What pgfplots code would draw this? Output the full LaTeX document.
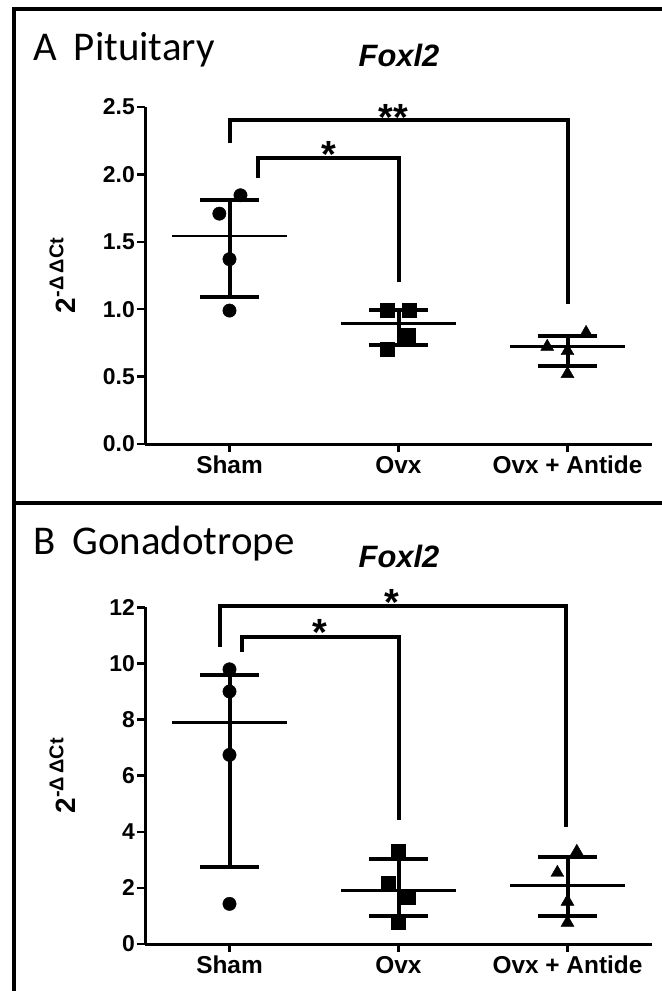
\documentclass[border=0pt]{standalone}
\usepackage{fontspec}
\setmainfont{Liberation Sans}
\newfontfamily\calibri{Carlito}
\usepackage{pgfplots}
\pgfplotsset{compat=1.18}

\newcommand{\yticksfont}{\fontsize{23}{23}\selectfont\bfseries}
\newcommand{\xticksfont}{\fontsize{24.5}{24.5}\selectfont\bfseries}
\newcommand{\ylab}{{\fontsize{28}{28}\selectfont\bfseries 2\raisebox{0.42em}{\fontsize{20}{20}\selectfont -Δ\,ΔCt}}}
\newcommand{\starfont}{\fontsize{38}{38}\selectfont\bfseries}
\newcommand{\yt}[1]{{\yticksfont #1}}

\pgfplotsset{
  panel/.style={
    scale only axis, width=507bp,
    xmin=-0.5, xmax=2.5, ymin=0,
    axis lines*=left,
    axis line style={line width=3bp, black},
    tick style={line width=2.5bp, black},
    tick align=outside,
    major tick length=8bp,
    xtick={0,1,2}, xticklabels={Sham,Ovx,Ovx + Antide},
    xticklabel style={font=\xticksfont, inner sep=4bp},
    yticklabel style={font=\yticksfont, inner sep=2bp},
    clip=false,
    every axis y label/.style={at={(axis description cs:-0.163,0.5)}, rotate=90, anchor=center},
    ylabel={\ylab},
  },
  meanline/.style={line width=2.6bp, black, forget plot},
  sdline/.style={line width=4bp, black, forget plot},
  bracket/.style={line width=4bp, black, forget plot, line join=miter},
  pts/.style={only marks, black, forget plot},
}

\begin{document}
\begin{tikzpicture}
\fill[white] (0,0) rectangle (662bp,-991bp);
\useasboundingbox (0,0) rectangle (662bp,-991bp);

% panel borders
\draw[line width=4bp] (662bp,-9bp) -- (14bp,-9bp) -- (14bp,-991bp);
\draw[line width=4bp] (14bp,-503bp) -- (662bp,-503bp);

% titles
\node[anchor=base west, font=\calibri\fontsize{41}{41}\selectfont, inner sep=0] at (33bp,-60bp) {A\hspace{0.42em}Pituitary};
\node[anchor=base, font=\fontsize{31}{31}\selectfont\bfseries\itshape, inner sep=0] at (399bp,-66bp) {Foxl2};
\node[anchor=base west, font=\calibri\fontsize{41}{41}\selectfont, inner sep=0] at (33bp,-554bp) {B\hspace{0.42em}Gonadotrope};
\node[anchor=base, font=\fontsize{31}{31}\selectfont\bfseries\itshape, inner sep=0] at (399bp,-567bp) {Foxl2};

% ---------------- Panel A ----------------
\begin{axis}[panel, at={(145bp,-444bp)}, anchor=south west,
  height=337bp, ymax=2.5, ytick={0,0.5,1,1.5,2,2.5},
  yticklabels={\yt{0.0},\yt{0.5},\yt{1.0},\yt{1.5},\yt{2.0},\yt{2.5}}]
  % points
  \addplot[pts, mark=*, mark size=6.7bp] coordinates {(0.065,1.845) (-0.06,1.709) (0,1.371) (0,0.99)};
  \addplot[pts, mark=square*, mark size=7bp] coordinates {(0.935,0.995) (1.065,0.995) (1.06,0.81) (0.935,0.705)};
  \addplot[pts, mark=triangle*, mark size=7.5bp] coordinates {(2.11,0.825) (1.88,0.722) (2,0.69) (2,0.52)};
  % median lines
  \addplot[meanline, unbounded coords=jump] coordinates {(-0.338,1.542) (0.338,1.542) (nan,nan) (0.662,0.895) (1.338,0.895) (nan,nan) (1.662,0.722) (2.338,0.722)};
  % ranges
  \addplot[sdline, unbounded coords=jump] coordinates {
    (0,1.089) (0,1.808) (nan,nan) (-0.175,1.808) (0.175,1.808) (nan,nan) (-0.175,1.089) (0.175,1.089) (nan,nan)
    (1,0.737) (1,0.995) (nan,nan) (0.825,0.995) (1.175,0.995) (nan,nan) (0.825,0.737) (1.175,0.737) (nan,nan)
    (2,0.575) (2,0.804) (nan,nan) (1.825,0.804) (2.175,0.804) (nan,nan) (1.825,0.575) (2.175,0.575)};
  % brackets
  \addplot[bracket] coordinates {(0,2.23) (0,2.40) (2,2.40) (2,1.04)};
  \addplot[bracket] coordinates {(0.17,1.97) (0.17,2.12) (1,2.12) (1,1.20)};
  \node[font=\starfont, anchor=base, inner sep=0, yshift=-21bp] at (axis cs:0.97,2.48) {**};
  \node[font=\starfont, anchor=base, inner sep=0, yshift=-21bp] at (axis cs:0.59,2.205) {*};
\end{axis}

% ---------------- Panel B ----------------
\begin{axis}[panel, at={(145bp,-944bp)}, anchor=south west,
  height=336.7bp, ymax=12, ytick={0,2,4,6,8,10,12},
  yticklabels={\yt{0},\yt{2},\yt{4},\yt{6},\yt{8},\yt{10},\yt{12}}]
  \addplot[pts, mark=*, mark size=6.7bp] coordinates {(0,9.79) (0,9.0) (0,6.74) (0,1.43)};
  \addplot[pts, mark=square*, mark size=7bp] coordinates {(1,3.3) (0.94,2.16) (1.06,1.66) (1,0.78)};
  \addplot[pts, mark=triangle*, mark size=7.5bp] coordinates {(2.055,3.29) (1.94,2.54) (2,1.51) (2,0.76)};
  \addplot[meanline, unbounded coords=jump] coordinates {(-0.338,7.89) (0.338,7.89) (nan,nan) (0.662,1.90) (1.338,1.90) (nan,nan) (1.662,2.09) (2.338,2.09)};
  \addplot[sdline, unbounded coords=jump] coordinates {
    (0,2.75) (0,9.58) (nan,nan) (-0.175,9.58) (0.175,9.58) (nan,nan) (-0.175,2.75) (0.175,2.75) (nan,nan)
    (1,1.01) (1,3.03) (nan,nan) (0.825,3.03) (1.175,3.03) (nan,nan) (0.825,1.01) (1.175,1.01) (nan,nan)
    (2,1.01) (2,3.11) (nan,nan) (1.825,3.11) (2.175,3.11) (nan,nan) (1.825,1.01) (2.175,1.01)};
  \addplot[bracket] coordinates {(-0.055,10.6) (-0.055,12.05) (1.99,12.05) (1.99,4.18)};
  \addplot[bracket] coordinates {(0.074,10.42) (0.074,10.95) (1,10.95) (1,4.42)};
  \node[font=\starfont, anchor=base, inner sep=0, yshift=-21bp] at (axis cs:0.96,12.44) {*};
  \node[font=\starfont, anchor=base, inner sep=0, yshift=-21bp] at (axis cs:0.535,11.37) {*};
\end{axis}
\end{tikzpicture}
\end{document}
